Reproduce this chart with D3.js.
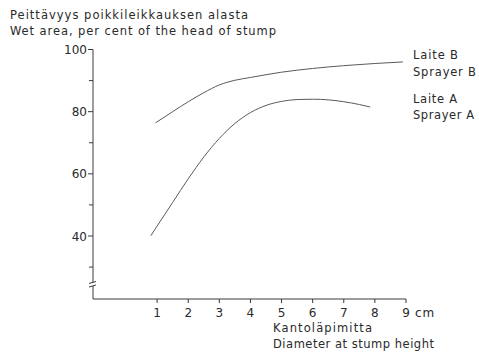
<!DOCTYPE html>
<html>
<head>
<meta charset="utf-8">
<script src="https://cdn.jsdelivr.net/npm/d3@7"></script>
<style>
  body { margin: 0; background: #fff; }
  svg text { font-family: "DejaVu Sans", "Liberation Sans", sans-serif; fill: #2a2a2a; }
</style>
</head>
<body>
<svg id="chart" width="479" height="352"></svg>
<script>
// diameter at stump height, cm
let xTicks = [1, 2, 3, 4, 5, 6, 7, 8, 9];
let yMajor = [40, 60, 80, 100];
let yMinor = [30, 50, 70, 90];

// Sprayer B (upper curve)
let diamB = [0.95, 1.5, 2, 2.5, 3, 3.5, 4, 5, 6, 7, 8, 8.9];
let wetB = [76.4, 80.0, 83.2, 86.1, 88.6, 90.1, 91.0, 92.7, 93.9, 94.8, 95.5, 96.0];

// Sprayer A (lower curve)
let diamA = [0.8, 1, 1.5, 2, 2.5, 3, 3.5, 4, 4.5, 5, 5.5, 6, 6.5, 7, 7.5, 7.85];
let wetA = [40.1, 43.2, 50.8, 58.4, 65.4, 71.4, 76.2, 79.7, 82, 83.3, 83.9, 84.0, 83.8, 83.2, 82.3, 81.5];

let titleLines = ["Peittävyys poikkileikkauksen alasta", "Wet area, per cent of the head of stump"];
let xTitleLines = ["Kantoläpimitta", "Diameter at stump height"];
let seriesLabels = [["Laite B", "Sprayer B"], ["Laite A", "Sprayer A"]];

let svg = d3.select("#chart");
let ink = "#3a3a3a";

let x = d3.scaleLinear().domain([0, 9]).range([126, 406]);
let y = d3.scaleLinear().domain([40, 100]).range([236, 49.5]);

let axisX0 = 93, axisY0 = 299;

// y axis line with break
svg.append("line").attr("x1", axisX0).attr("x2", axisX0).attr("y1", y(100)).attr("y2", 282)
  .attr("stroke", ink).attr("stroke-width", 1);
svg.append("line").attr("x1", axisX0).attr("x2", axisX0).attr("y1", 286).attr("y2", axisY0)
  .attr("stroke", ink).attr("stroke-width", 1);
svg.append("line").attr("x1", 89).attr("x2", 96).attr("y1", 283.5).attr("y2", 281.5).attr("stroke", ink);
svg.append("line").attr("x1", 89).attr("x2", 96).attr("y1", 287).attr("y2", 285).attr("stroke", ink);

// y ticks
svg.selectAll(".ymaj").data(yMajor).enter().append("line")
  .attr("x1", axisX0 - 5).attr("x2", axisX0).attr("y1", d => y(d)).attr("y2", d => y(d))
  .attr("stroke", ink);
svg.selectAll(".ymin").data(yMinor).enter().append("line")
  .attr("x1", axisX0 - 4).attr("x2", axisX0).attr("y1", d => y(d)).attr("y2", d => y(d))
  .attr("stroke", ink);
svg.selectAll(".ylab").data(yMajor).enter().append("text")
  .attr("x", axisX0 - 6).attr("y", d => y(d) + 4.5)
  .attr("text-anchor", "end").attr("font-size", 12)
  .text(d => d);

// x axis
svg.append("line").attr("x1", axisX0).attr("x2", x(9)).attr("y1", axisY0).attr("y2", axisY0)
  .attr("stroke", ink);
svg.selectAll(".xt").data(xTicks).enter().append("line")
  .attr("x1", d => x(d)).attr("x2", d => x(d)).attr("y1", axisY0).attr("y2", axisY0 + 4)
  .attr("stroke", ink);
svg.selectAll(".xlab").data(xTicks).enter().append("text")
  .attr("x", d => x(d)).attr("y", 317)
  .attr("text-anchor", "middle").attr("font-size", 12)
  .text(d => d);
svg.append("text").attr("x", x(9) + 9).attr("y", 317).attr("font-size", 12)
  .attr("letter-spacing", 0.8).text("cm");

// titles (stretched a bit, the original lettering is wide)
let titleW = [238, 266];
svg.selectAll(".ttl").data(titleLines).enter().append("text")
  .attr("x", 10).attr("y", (d, i) => 19 + i * 16)
  .attr("font-size", 11.5)
  .attr("textLength", (d, i) => titleW[i]).attr("lengthAdjust", "spacing")
  .text(d => d);
let xTitleW = [99, 161];
svg.selectAll(".xttl").data(xTitleLines).enter().append("text")
  .attr("x", 273).attr("y", (d, i) => 332 + i * 16)
  .attr("font-size", 11.5)
  .attr("textLength", (d, i) => xTitleW[i]).attr("lengthAdjust", "spacing")
  .text(d => d);

// curves
let line = d3.line().x(d => x(d[0])).y(d => y(d[1])).curve(d3.curveMonotoneX);
svg.append("path").datum(d3.zip(diamB, wetB)).attr("d", line)
  .attr("fill", "none").attr("stroke", "#5a5a5a").attr("stroke-width", 1);
svg.append("path").datum(d3.zip(diamA, wetA)).attr("d", line)
  .attr("fill", "none").attr("stroke", "#5a5a5a").attr("stroke-width", 1);

// series labels
let labY = [[59, 76], [103, 119]];
let labW = [[45, 63], [44, 61]];
seriesLabels.forEach((lines, k) => {
  lines.forEach((t, i) => {
    svg.append("text").attr("x", 413).attr("y", labY[k][i])
      .attr("font-size", 11.5)
      .attr("textLength", labW[k][i]).attr("lengthAdjust", "spacing")
      .text(t);
  });
});
</script>
</body>
</html>
